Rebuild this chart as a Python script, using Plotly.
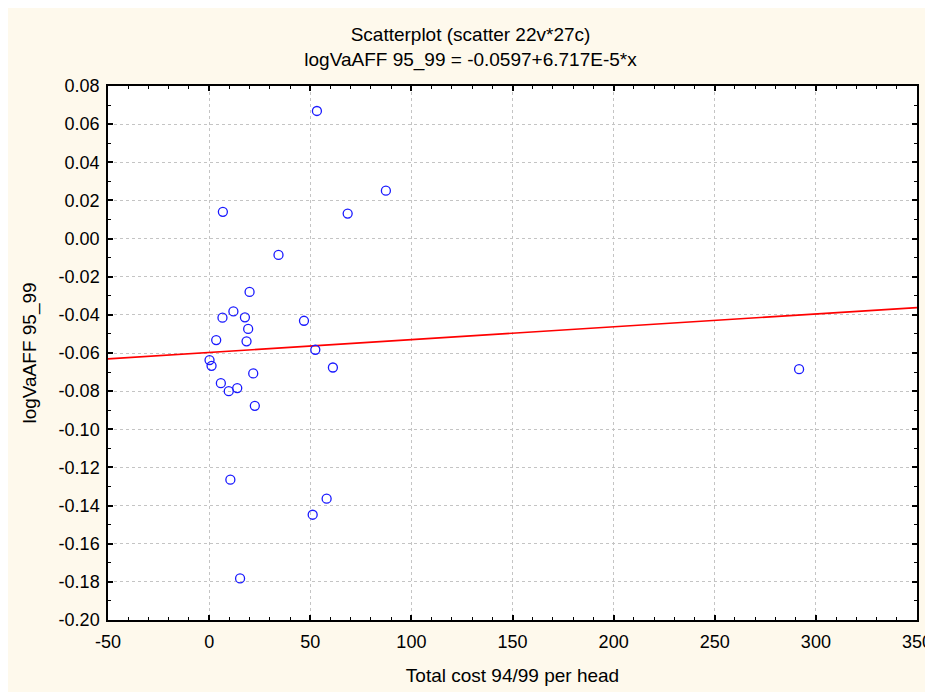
import plotly.graph_objects as go

# data
cost = [6.8, 34.3, 53.3, 68.5, 87.4,
        20.0, 12.0, 6.6, 17.7, 19.3, 3.5, 18.5, 46.9, 52.5, 0.2, 1.2, 61.2,
        21.8, 5.8, 13.9, 9.7, 22.6,
        10.5, 58.1, 51.2, 15.3, 291.7]
logva = [0.0140, -0.0086, 0.0669, 0.0131, 0.0251,
         -0.0280, -0.0382, -0.0415, -0.0413, -0.0474, -0.0532, -0.0539, -0.0431, -0.0583, -0.0637, -0.0667, -0.0676,
         -0.0707, -0.0758, -0.0784, -0.0800, -0.0877,
         -0.1264, -0.1364, -0.1448, -0.1782, -0.0685]
intercept = -0.0597
slope = 6.717e-5
line_x = [-50, 350]
line_y = [intercept + slope * v for v in line_x]

x_ticks = [-50, 0, 50, 100, 150, 200, 250, 300, 350]
y_ticks = [0.08, 0.06, 0.04, 0.02, 0.00, -0.02, -0.04, -0.06, -0.08, -0.10,
           -0.12, -0.14, -0.16, -0.18, -0.20]
y_text = [f"{v:.2f}" for v in y_ticks]
x_text = [str(v) for v in x_ticks]

font = "Liberation Sans, Arial, sans-serif"

fig = go.Figure()
fig.add_trace(go.Scatter(x=line_x, y=line_y, mode="lines",
                         line=dict(color="#ff0000", width=1.6), hoverinfo="skip"))
fig.add_trace(go.Scatter(x=cost, y=logva, mode="markers",
                         marker=dict(symbol="circle-open", size=9,
                                     color="#1a1aff", line=dict(width=1.3))))

axis_common = dict(showline=True, linecolor="black", linewidth=1.5, mirror="allticks",
                   ticks="inside", ticklen=5, tickcolor="black", tickwidth=1.5,
                   showgrid=True, gridcolor="#c4c4c4", griddash="dot", gridwidth=1,
                   zeroline=False, automargin=False,
                   tickfont=dict(family=font, size=18, color="black"))

fig.update_xaxes(range=[-50, 350], tickvals=x_ticks, ticktext=x_text,
                 ticklabelstandoff=5,
                 minor=dict(dtick=10, ticks="inside", ticklen=3, tickcolor="black",
                            tickwidth=1.2, showgrid=False),
                 title=dict(text="Total cost 94/99 per head",
                            font=dict(family=font, size=19, color="black"), standoff=17),
                 **axis_common)
fig.update_yaxes(range=[-0.20, 0.08], tickvals=y_ticks, ticktext=y_text,
                 ticklabelstandoff=3,
                 minor=dict(dtick=0.01, ticks="inside", ticklen=3, tickcolor="black",
                            tickwidth=1.2, showgrid=False),
                 title=dict(text="logVaAFF 95_99",
                            font=dict(family=font, size=19, color="black"), standoff=17),
                 **axis_common)

fig.update_layout(
    width=925, height=684,
    paper_bgcolor="#fef9ec", plot_bgcolor="white",
    showlegend=False,
    margin=dict(l=100, r=16, t=78, b=72),
    title=dict(text="Scatterplot (scatter 22v*27c)<br>logVaAFF 95_99 = -0.0597+6.717E-5*x",
               x=0.5, xanchor="center", y=1 - 33 / 684, yanchor="middle",
               font=dict(family=font, size=19, color="black")),
)

fig.write_html("out.html")
